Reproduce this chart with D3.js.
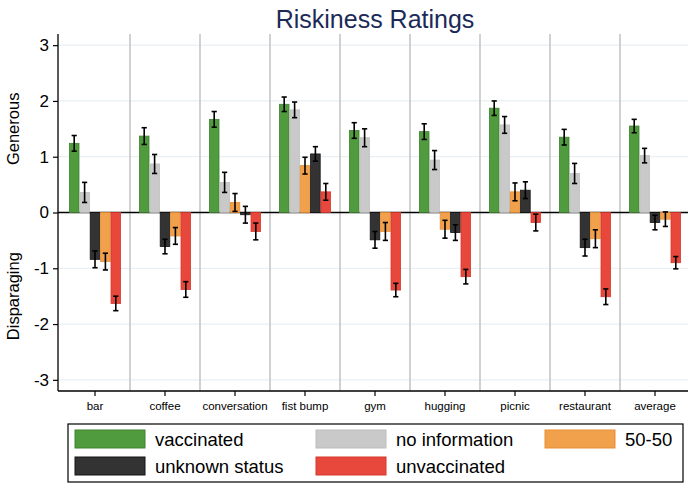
<!DOCTYPE html>
<html>
<head>
<meta charset="utf-8">
<script src="https://cdn.jsdelivr.net/npm/d3@7"></script>
<style>
  body { margin: 0; background: #fff; }
  svg { display: block; font-family: "Liberation Sans", Arial, sans-serif; }
</style>
</head>
<body>
<svg id="chart" width="690" height="488"></svg>
<script>
var categories = ["bar", "coffee", "conversation", "fist bump", "gym", "hugging", "picnic", "restaurant", "average"];

// mean ratings per group
var vaccinated    = [1.24, 1.37, 1.67, 1.94, 1.47, 1.45, 1.87, 1.35, 1.55];
var noInformation = [0.36, 0.87, 0.54, 1.84, 1.34, 0.94, 1.57, 0.70, 1.02];
var fiftyFifty    = [-0.88, -0.42, 0.18, 0.84, -0.34, -0.30, 0.37, -0.47, -0.12];
var unknownStatus = [-0.84, -0.61, -0.04, 1.05, -0.49, -0.36, 0.40, -0.63, -0.18];
var unvaccinated  = [-1.63, -1.38, -0.34, 0.37, -1.39, -1.15, -0.18, -1.51, -0.90];

// half width of the confidence interval
var vaccinatedErr    = [0.14, 0.15, 0.14, 0.13, 0.14, 0.14, 0.13, 0.14, 0.12];
var noInformationErr = [0.18, 0.17, 0.18, 0.14, 0.16, 0.17, 0.15, 0.18, 0.13];
var fiftyFiftyErr    = [0.15, 0.15, 0.16, 0.15, 0.16, 0.16, 0.16, 0.16, 0.13];
var unknownStatusErr = [0.15, 0.13, 0.15, 0.13, 0.15, 0.14, 0.15, 0.15, 0.13];
var unvaccinatedErr  = [0.13, 0.14, 0.15, 0.15, 0.12, 0.13, 0.15, 0.14, 0.11];

// order of the groups inside each category, as in the original figure
var barOrder = [
  ["vac", "noinfo", "unknown", "fifty", "unvac"],
  ["vac", "noinfo", "unknown", "fifty", "unvac"],
  ["vac", "noinfo", "fifty", "unknown", "unvac"],
  ["vac", "noinfo", "fifty", "unknown", "unvac"],
  ["vac", "noinfo", "unknown", "fifty", "unvac"],
  ["vac", "noinfo", "fifty", "unknown", "unvac"],
  ["vac", "noinfo", "fifty", "unknown", "unvac"],
  ["vac", "noinfo", "unknown", "fifty", "unvac"],
  ["vac", "noinfo", "unknown", "fifty", "unvac"]
];

var yTicks = [-3, -2, -1, 0, 1, 2, 3];

var series = {
  vac:     { label: "vaccinated",     values: vaccinated,    err: vaccinatedErr,    fill: "#519b3f", stroke: "#3f8330" },
  noinfo:  { label: "no information", values: noInformation, err: noInformationErr, fill: "#c9c9c9", stroke: "#bdbdbd" },
  fifty:   { label: "50-50",          values: fiftyFifty,    err: fiftyFiftyErr,    fill: "#f1a04b", stroke: "#e58f35" },
  unknown: { label: "unknown status", values: unknownStatus, err: unknownStatusErr, fill: "#333333", stroke: "#151515" },
  unvac:   { label: "unvaccinated",   values: unvaccinated,  err: unvaccinatedErr,  fill: "#e8473b", stroke: "#d8392e" }
};
var legendOrder = ["vac", "noinfo", "fifty", "unknown", "unvac"];

var svg = d3.select("#chart");
var plot = { left: 58, right: 688, top: 34, bottom: 391 };

var x = d3.scaleBand().domain(categories).range([60, 690]).padding(0);
var slot = d3.scaleBand().domain(d3.range(5)).range([-26, 26]).padding(0);
var y = d3.scaleLinear().domain([-3.2, 3.2]).range([plot.bottom, plot.top]);

// light horizontal grid
svg.append("g")
  .selectAll("line")
  .data(yTicks.filter(function(d) { return d !== 0; }))
  .join("line")
  .attr("x1", plot.left).attr("x2", plot.right)
  .attr("y1", function(d) { return y(d); })
  .attr("y2", function(d) { return y(d); })
  .attr("stroke", "#e9eff3")
  .attr("stroke-width", 1.2);

// category separators
svg.append("g")
  .selectAll("line")
  .data(categories.slice(1))
  .join("line")
  .attr("x1", function(d) { return x(d); })
  .attr("x2", function(d) { return x(d); })
  .attr("y1", plot.top).attr("y2", plot.bottom)
  .attr("stroke", "#c6c6c6")
  .attr("stroke-width", 1.6);

// zero line behind the bars
svg.append("line")
  .attr("x1", plot.left).attr("x2", plot.right)
  .attr("y1", y(0)).attr("y2", y(0))
  .attr("stroke", "#000")
  .attr("stroke-width", 1.5);

// flatten into bars
var bars = [];
categories.forEach(function(cat, i) {
  barOrder[i].forEach(function(key, j) {
    var s = series[key];
    bars.push({ cat: cat, slot: j, value: s.values[i], err: s.err[i], s: s });
  });
});

function barX(d) { return x(d.cat) + x.bandwidth() / 2 + slot(d.slot); }

svg.append("g")
  .selectAll("rect")
  .data(bars)
  .join("rect")
  .attr("x", function(d) { return barX(d) + 0.4; })
  .attr("width", slot.bandwidth() - 0.8)
  .attr("y", function(d) { return Math.min(y(d.value), y(0)); })
  .attr("height", function(d) { return Math.abs(y(d.value) - y(0)); })
  .attr("fill", function(d) { return d.s.fill; })
  .attr("stroke", function(d) { return d.s.stroke; })
  .attr("stroke-width", 0.8);

// error bars
var eb = svg.append("g").attr("stroke", "#000").attr("stroke-width", 1.6);
bars.forEach(function(d) {
  var cx = barX(d) + slot.bandwidth() / 2;
  var y1 = y(d.value + d.err), y2 = y(d.value - d.err);
  eb.append("line").attr("x1", cx).attr("x2", cx).attr("y1", y1).attr("y2", y2);
  eb.append("line").attr("x1", cx - 2.6).attr("x2", cx + 2.6).attr("y1", y1).attr("y2", y1);
  eb.append("line").attr("x1", cx - 2.6).attr("x2", cx + 2.6).attr("y1", y2).attr("y2", y2);
});

// y axis (plain hyphen for negatives, like the original)
var yAxis = svg.append("g")
  .attr("transform", "translate(" + plot.left + ",0)")
  .call(d3.axisLeft(y).tickValues(yTicks).tickSize(5).tickPadding(4).tickFormat(function(d) { return String(d); }));
yAxis.select(".domain").attr("d", "M0," + plot.top + "V" + plot.bottom).attr("stroke", "#000").attr("stroke-width", 1.3);
yAxis.selectAll(".tick line").attr("stroke", "#000").attr("stroke-width", 1.2);
yAxis.selectAll(".tick text").attr("font-size", 17).attr("fill", "#000")
  .attr("font-family", "Liberation Sans, Arial, sans-serif");

// x axis
var xAxis = svg.append("g")
  .attr("transform", "translate(0," + plot.bottom + ")")
  .call(d3.axisBottom(x).tickSize(5).tickPadding(6));
xAxis.select(".domain").attr("d", "M" + plot.left + ",0H" + plot.right).attr("stroke", "#000").attr("stroke-width", 1.3);
xAxis.selectAll(".tick line").attr("stroke", "#000").attr("stroke-width", 1.2);
xAxis.selectAll(".tick text").attr("font-size", 11.5).attr("fill", "#000")
  .attr("font-family", "Liberation Sans Narrow, Liberation Sans, Arial, sans-serif");

// title
svg.append("text")
  .attr("x", 375).attr("y", 28)
  .attr("text-anchor", "middle")
  .attr("font-size", 25)
  .attr("fill", "#1c2a57")
  .text("Riskiness Ratings");

// side labels
svg.append("text")
  .attr("transform", "translate(19," + y(1.5) + ") rotate(-90)")
  .attr("text-anchor", "middle")
  .attr("font-size", 16.5)
  .text("Generous");
svg.append("text")
  .attr("transform", "translate(19," + y(-1.5) + ") rotate(-90)")
  .attr("text-anchor", "middle")
  .attr("font-size", 16.5)
  .text("Disparaging");

// legend
var legend = svg.append("g");
legend.append("rect")
  .attr("x", 68).attr("y", 424).attr("width", 615).attr("height", 58)
  .attr("fill", "#fff").attr("stroke", "#000").attr("stroke-width", 1.2);
var colX = [75, 316, 545];
var rowY = [430, 457];
legendOrder.forEach(function(key, i) {
  var s = series[key];
  var cx = colX[i % 3], cy = rowY[Math.floor(i / 3)];
  legend.append("rect")
    .attr("x", cx).attr("y", cy).attr("width", 70).attr("height", 18)
    .attr("fill", s.fill).attr("stroke", s.stroke).attr("stroke-width", 1);
  legend.append("text")
    .attr("x", cx + 80).attr("y", cy + 15.5)
    .attr("font-size", 18.5)
    .text(s.label);
});
</script>
</body>
</html>
